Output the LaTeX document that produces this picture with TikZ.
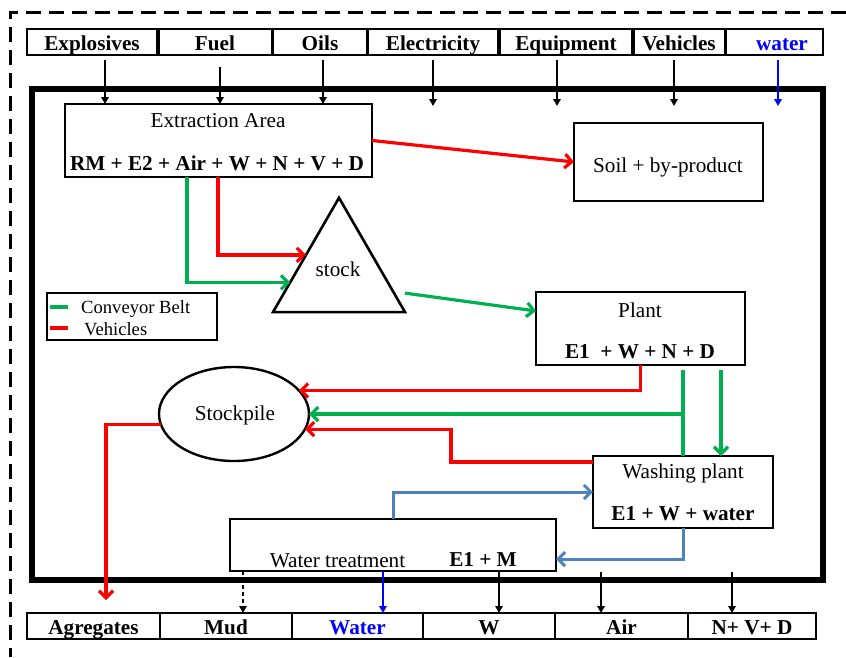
\documentclass[tikz,border=0pt]{standalone}
\usepackage{fontspec}
\setmainfont{Liberation Serif}
\usetikzlibrary{arrows.meta,calc,fit,shapes.geometric}
\definecolor{cgreen}{HTML}{00B050}
\definecolor{cred}{HTML}{FF0000}
\definecolor{cblue}{HTML}{0000FF}
\definecolor{csteel}{HTML}{4F81BD}
\begin{document}
\begin{tikzpicture}[x=1pt,y=-1pt,
  rbox/.style={draw, line width=2.6pt, inner sep=0pt, outer sep=0pt, fit={#1}},
  tbox/.style={draw, line width=2pt, inner sep=0pt, outer sep=0pt, fit={#1}},
  txt/.style={anchor=base, inner sep=0pt, font=\fontsize{21.2}{25}\selectfont},
  btxt/.style={anchor=base, inner sep=0pt, font=\fontsize{21.2}{25}\selectfont\bfseries},
  ltxt/.style={anchor=base west, inner sep=0pt, font=\fontsize{18.6}{22}\selectfont},
  barrow/.style={line width=2pt, -{Triangle[length=7pt,width=7.5pt]}},
  rarrow/.style={draw=cred, line width=3.2pt, -{Straight Barb[length=7pt,width=14pt]}},
  garrow/.style={draw=cgreen, line width=3.2pt, -{Straight Barb[length=7pt,width=14pt]}},
  sarrow/.style={draw=csteel, line width=3pt, -{Straight Barb[length=7pt,width=14pt]}},
  gline/.style={draw=cgreen, line width=3.2pt},
  rline/.style={draw=cred, line width=3.2pt},
  dline/.style={line width=3pt, dash pattern=on 15pt off 8pt}
]
\useasboundingbox (0,0) rectangle (846,657);

% outer dashed border
\draw[dline] (846,12) -- (10,12) -- (10,657);

% top row
\node[tbox={(27,29)(157,55)}] (tExp) {};
\node[tbox={(159,29)(272,55)}] (tFuel) {};
\node[tbox={(273,29)(367,55)}] (tOils) {};
\node[tbox={(368,29)(498,55)}] (tElec) {};
\node[tbox={(500,29)(632,55)}] (tEquip) {};
\node[tbox={(634,29)(725,55)}] (tVeh) {};
\node[tbox={(726,29)(823,55)}] (tWat) {};
\node[btxt] (lExp) at (92,50) {Explosives};
\node[btxt] (lFuel) at (215,50) {Fuel};
\node[btxt] (lOils) at (320,50) {Oils};
\node[btxt] (lElec) at (433,50) {Electricity};
\node[btxt] (lEquip) at (566,50) {Equipment};
\node[btxt] (lVeh) at (679,50) {Vehicles};
\node[btxt, text=cblue] (lWat) at (782,50) {water};

% thick frame
\node[draw, line width=5.5pt, inner sep=0pt, outer sep=0pt, fit={(32,89)(823,580)}] (frame) {};

% extraction area
\node[rbox={(65,104)(372,177)}] (ext) {};
\node[txt] (extT) at (218,127) {Extraction Area};
\node[btxt] (extF) at (217,170) {RM + E2 + Air + W + N + V + D};

% top arrows
\coordinate (a1) at ($(tExp.south)+(13,5)$);
\coordinate (a2) at ($(tFuel.south)+(4.5,12)$);
\coordinate (a3) at ($(tOils.south)+(3,5)$);
\coordinate (a4) at ($(tElec.south)+(0,5)$);
\coordinate (a5) at ($(tEquip.south)+(-9,5)$);
\coordinate (a6) at ($(tVeh.south)+(-5.5,5)$);
\coordinate (a7) at ($(tWat.south)+(3.5,5)$);
\draw[barrow] (a1) -- (a1 |- ext.north);
\draw[barrow] (a2) -- (a2 |- ext.north);
\draw[barrow] (a3) -- (a3 |- ext.north);
\draw[barrow] (a4) -- ++(0,46);
\draw[barrow] (a5) -- ++(0,46);
\draw[barrow] (a6) -- ++(0,46);
\draw[barrow, draw=cblue, fill=cblue] (a7) -- ++(0,46);

% soil
\node[rbox={(574,123)(763,201)}] (soil) {};
\node[txt] (soilT) at (668,172) {Soil + by-product};
\draw[rarrow] (ext.east) -- (soil.west);

% stock
\node[draw, line width=2.6pt, regular polygon, regular polygon sides=3, minimum size=152.4pt, inner sep=0pt, outer sep=0pt] (stock) at (339,274) {};
\node[txt] (stockT) at (338,276) {stock};
\draw[rarrow] ($(ext.south west)+(153,0)$) |- ($(stock.corner 1)!0.5!(stock.corner 2)$);
\draw[garrow] ($(ext.south west)+(122,0)$) |- ($(stock.corner 1)!0.74!(stock.corner 2)$);

% legend
\node[rbox={(47,293)(217,340)}] (leg) {};
\draw[gline] ($(leg.north west)+(3,14)$) -- ++(18,0);
\draw[rline] ($(leg.north west)+(3,35)$) -- ++(18,0);
\node[ltxt] (legG) at (81,313) {Conveyor Belt};
\node[ltxt] (legR) at (84,335) {Vehicles};

% plant
\node[rbox={(536,292)(745,365)}] (plant) {};
\node[txt] (plantT) at (640,317) {Plant};
\node[btxt] (plantF) at (640,358) {E1~ + W + N + D};
\draw[garrow] ($(stock.corner 3)+(0,-19)$) -- ($(plant.north west)+(0,19)$);

% stockpile
\node[draw, ellipse, line width=2.4pt, minimum width=150pt, minimum height=94pt, inner sep=0pt, outer sep=0pt] (sp) at (234,414) {};
\node[txt] (spT) at (235,420) {Stockpile};

% washing plant
\node[rbox={(593,456)(773,528)}] (wash) {};
\node[txt] (washT) at (683,478) {Washing plant};
\node[btxt] (washF) at (683,520) {E1 + W + water};

% water treatment
\node[rbox={(230,519)(556,571)}] (wt) {};
\node[txt] (wtT) at (337.5,567) {Water treatment};
\node[btxt] (wtF) at (483,566) {E1 + M};

% plant -> stockpile / washing
\draw[rarrow] (plant.south) |- (sp.20);
\coordinate (gj) at (plant.south -| wash.north);
\draw[garrow] ($(gj)+(0,5)$) |- (sp.east);
\draw[gline] (wash.north) -- (wash.north |- sp.east);
\draw[garrow] ($(plant.south)+(80.5,5)$) -- ($(wash.north)+(38,0)$);
\draw[rarrow] ($(wash.north west)+(0,6)$) -- ++(-142,0) |- (sp.-12);

% water loop
\draw[sarrow] ($(wt.north west)+(163,0)$) |- (wash.west);
\draw[sarrow] (wash.south) |- ($(wt.south east)+(0,-12)$);

% bottom row
\node[tbox={(27,613)(160,639)}] (bAgg) {};
\node[tbox={(160,613)(292,639)}] (bMud) {};
\node[tbox={(292,613)(423,639)}] (bWat) {};
\node[tbox={(423,613)(555,639)}] (bW) {};
\node[tbox={(555,613)(688,639)}] (bAir) {};
\node[tbox={(688,613)(816,639)}] (bNVD) {};
\node[btxt] (lAgg) at (93.5,634) {Agregates};
\node[btxt] (lMud) at (226,634) {Mud};
\node[btxt, text=cblue] (lWat2) at (357.5,634) {Water};
\node[btxt] (lW) at (489,634) {W};
\node[btxt] (lAir) at (621.5,634) {Air};
\node[btxt] (lNVD) at (752,634) {N+ V+ D};

% stockpile -> agregates
\draw[rarrow] (sp.188) -| ($(bAgg.north)+(12.5,-13)$);

% bottom arrows
\coordinate (b1) at ($(wt.south west)+(13,0)$);
\coordinate (b2) at ($(wt.south west)+(153,0)$);
\coordinate (b3) at ($(wt.south west)+(269,1)$);
\coordinate (b4) at ($(bAir.north)+(-20.5,-41)$);
\coordinate (b5) at ($(bNVD.north)+(-20,-41)$);
\draw[barrow, line width=1.5pt, dash pattern=on 4pt off 3pt] (b1) -- (b1 |- bMud.north);
\draw[barrow, draw=cblue, fill=cblue] (b2) -- (b2 |- bWat.north);
\draw[barrow] (b3) -- (b3 |- bW.north);
\draw[barrow] (b4) -- (b4 |- bAir.north);
\draw[barrow] (b5) -- (b5 |- bNVD.north);
\end{tikzpicture}
\end{document}
